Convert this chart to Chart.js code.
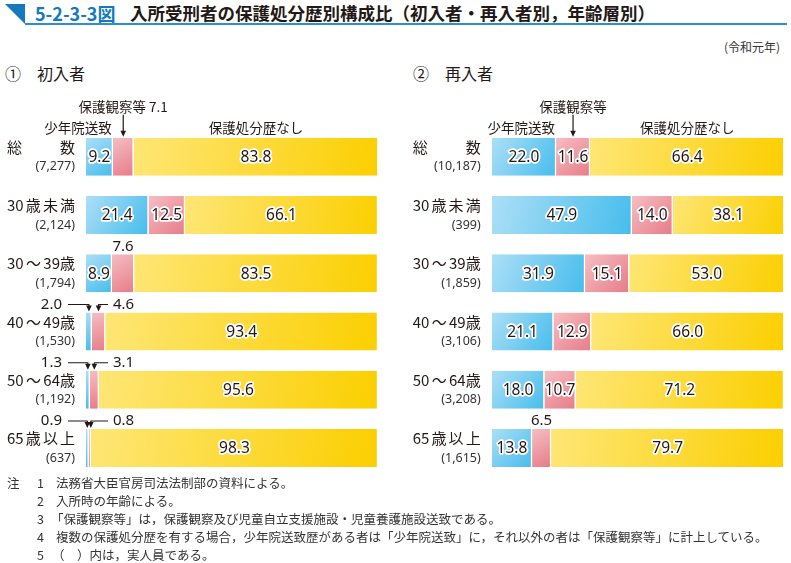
<!DOCTYPE html>
<html><head><meta charset="utf-8">
<script src="https://cdn.jsdelivr.net/npm/chart.js@4"></script>
<style>
html,body{margin:0;padding:0;background:#fff}
body{width:791px;height:563px;position:relative;overflow:hidden;font-family:"Noto Sans CJK JP","Noto Sans",sans-serif;color:#231815}
.abs{position:absolute;white-space:nowrap;line-height:1}
canvas{position:absolute;top:0}
#c1{left:0}
#c2{left:395px}
.note{font-size:12.5px;color:#333}
</style></head><body>
<svg class="abs" style="left:0;top:0" width="791" height="30">
  <polygon points="5,4 25,4 25,24" fill="#1479bd"/>
  <rect x="25" y="23" width="762" height="2" fill="#2a90d2"/>
</svg>
<div class="abs" style="left:35px;top:4px;font-size:18px;font-weight:bold;color:#1479bd">5-2-3-3図</div>
<div class="abs" style="left:130px;top:4px;font-size:17.5px;font-weight:bold;color:#231815">入所受刑者の保護処分歴別構成比（初入者・再入者別，年齢層別）</div>
<div class="abs" style="left:724px;top:41px;font-size:12px;color:#333">(令和元年)</div>
<div class="abs" style="left:5px;top:65px;font-size:16px">①</div>
<div class="abs" style="left:37px;top:65px;font-size:16px">初入者</div>
<div class="abs" style="left:413px;top:65px;font-size:16px">②</div>
<div class="abs" style="left:445px;top:65px;font-size:16px">再入者</div>
<canvas id="c1" width="395" height="563"></canvas>
<canvas id="c2" width="396" height="563"></canvas>
<div class="abs note" style="left:7px;top:477px">注</div>
<div class="abs note" style="left:37px;top:477px">1</div>
<div class="abs note" style="left:56px;top:477px">法務省大臣官房司法法制部の資料による。</div>
<div class="abs note" style="left:37px;top:495px">2</div>
<div class="abs note" style="left:56px;top:495px">入所時の年齢による。</div>
<div class="abs note" style="left:37px;top:513px">3</div>
<div class="abs note" style="left:51px;top:513px">「保護観察等」は，保護観察及び児童自立支援施設・児童養護施設送致である。</div>
<div class="abs note" style="left:37px;top:531px">4</div>
<div class="abs note" style="left:56px;top:531px">複数の保護処分歴を有する場合，少年院送致歴がある者は「少年院送致」に，それ以外の者は「保護観察等」に計上している。</div>
<div class="abs note" style="left:37px;top:549px">5</div>
<div class="abs note" style="left:52px;top:549px">（　）内は，実人員である。</div>
<script>
const categories = ['総 数', '30 歳 未 満', '30 ～ 39歳', '40 ～ 49歳', '50 ～ 64歳', '65 歳 以 上'];
const seriesNames = ['少年院送致', '保護観察等', '保護処分歴なし'];

const firstCounts = ['7,277', '2,124', '1,794', '1,530', '1,192', '637'];
const firstReformatory = [9.2, 21.4, 8.9, 2.0, 1.3, 0.9];
const firstProbation = [7.1, 12.5, 7.6, 4.6, 3.1, 0.8];
const firstNone = [83.8, 66.1, 83.5, 93.4, 95.6, 98.3];

const repeatCounts = ['10,187', '399', '1,859', '3,106', '3,208', '1,615'];
const repeatReformatory = [22.0, 47.9, 31.9, 21.1, 18.0, 13.8];
const repeatProbation = [11.6, 14.0, 15.1, 12.9, 10.7, 6.5];
const repeatNone = [66.4, 38.1, 53.0, 66.0, 71.2, 79.7];

const BAR_FRAC = 0.652;
const TEXT = '#231815';
const colorPairs = [['#addff6', '#46bdec'], ['#f6bec2', '#e77c89'], ['#fee676', '#fbcf00']];

function gradientFill(c1, c2) {
  return (ctx) => {
    const chart = ctx.chart;
    const xs = chart.scales.x, ys = chart.scales.y;
    if (ctx.type !== 'data' || !xs || !ys || !chart.chartArea) return c2;
    const i = ctx.dataIndex, d = ctx.datasetIndex;
    const ds = chart.data.datasets;
    let s = 0;
    for (let k = 0; k < d; k++) s += ds[k].data[i];
    const x0 = xs.getPixelForValue(s), x1 = xs.getPixelForValue(s + ds[d].data[i]);
    const yc = ys.getPixelForValue(i);
    const h = (ys.height / chart.data.labels.length) * BAR_FRAC / 2;
    const g = chart.ctx.createLinearGradient(x0, yc - h, Math.max(x1, x0 + 1), yc + h);
    g.addColorStop(0, c1);
    g.addColorStop(1, c2);
    return g;
  };
}

function arrowHead(ctx, x, yTip) {
  ctx.beginPath();
  ctx.moveTo(x - 2.8, yTip - 6);
  ctx.lineTo(x + 2.8, yTip - 6);
  ctx.lineTo(x, yTip);
  ctx.closePath();
  ctx.fill();
}

const labelPlugin = {
  id: 'labels',
  afterDatasetsDraw(chart) {
    const ctx = chart.ctx;
    const ca = chart.chartArea;
    const counts = chart.options.plugins.labels.counts;
    const metas = [0, 1, 2].map(d => chart.getDatasetMeta(d));
    ctx.save();
    for (let i = 0; i < categories.length; i++) {
      const bars = metas.map(m => m.data[i].getProps(['x', 'base', 'y', 'height'], true));
      const yc = bars[0].y;
      const top = yc - bars[0].height / 2;
      // category label (justified)
      ctx.fillStyle = TEXT;
      ctx.textBaseline = 'middle';
      ctx.font = '15px "Noto Sans CJK JP"';
      const toks = categories[i].split(' ');
      const L = ca.left - 79, R = ca.left - 11;
      const widths = toks.map(t => ctx.measureText(t).width);
      const total = widths.reduce((a, b) => a + b, 0);
      const gap = toks.length > 1 ? (R - L - total) / (toks.length - 1) : 0;
      let cx = toks.length > 1 ? L : R - total;
      ctx.textAlign = 'left';
      toks.forEach((t, k) => { ctx.fillText(t, cx, yc - 9.5); cx += widths[k] + gap; });
      ctx.fillStyle = '#333';
      ctx.font = '12.5px "Noto Sans"';
      ctx.textAlign = 'right';
      ctx.fillText('(' + counts[i] + ')', ca.left - 11, yc + 10);

      // values
      const vals = chart.data.datasets.map(ds => ds.data[i]);
      const fits = bars.map(b => Math.abs(b.x - b.base) >= 24);
      const centers = bars.map(b => (b.x + b.base) / 2);
      ctx.font = '15.5px "Noto Sans"';
      ctx.textAlign = 'center';
      ctx.lineJoin = 'round';
      for (let d = 0; d < 3; d++) {
        const lbl = vals[d].toFixed(1);
        if (fits[d]) {
          ctx.strokeStyle = '#fff';
          ctx.lineWidth = 3.5;
          ctx.strokeText(lbl, centers[d], yc + 1);
          ctx.fillStyle = TEXT;
          ctx.fillText(lbl, centers[d], yc + 1);
        }
      }
      ctx.fillStyle = TEXT;
      ctx.strokeStyle = TEXT;
      ctx.lineWidth = 1.2;
      ctx.font = '15px "Noto Sans"';
      if (i === 0) {
        // header with series names
        ctx.font = '13.5px "Noto Sans CJK JP"';
        ctx.textAlign = 'right';
        ctx.fillText(seriesNames[0], bars[0].x - 1, top - 10);
        ctx.textAlign = 'center';
        ctx.fillText(seriesNames[2], centers[2], top - 10);
        const head = seriesNames[1] + (fits[1] ? '' : ' ' + vals[1].toFixed(1));
        ctx.fillText(head, centers[1], top - 31);
        ctx.beginPath();
        ctx.moveTo(centers[1], top - 23);
        ctx.lineTo(centers[1], top - 6);
        ctx.stroke();
        arrowHead(ctx, centers[1], top - 1);
      } else if (!fits[0] && !fits[1]) {
        const ty = top - 8;
        ctx.textAlign = 'right';
        ctx.fillText(vals[0].toFixed(1), ca.left - 24, ty);
        ctx.textAlign = 'left';
        ctx.fillText(vals[1].toFixed(1), ca.left + 27, ty);
        const ax0 = centers[0], ax1 = Math.max(centers[1], centers[0] + 3.5);
        ctx.beginPath();
        ctx.moveTo(ca.left - 18, ty); ctx.lineTo(ax0, ty); ctx.lineTo(ax0, top - 6);
        ctx.moveTo(ca.left + 22, ty); ctx.lineTo(ax1, ty); ctx.lineTo(ax1, top - 6);
        ctx.stroke();
        arrowHead(ctx, ax0, top - 1);
        arrowHead(ctx, ax1, top - 1);
      } else {
        ctx.textAlign = 'center';
        for (let d = 0; d < 2; d++) {
          if (!fits[d]) ctx.fillText(vals[d].toFixed(1), centers[d], top - 8);
        }
      }
    }
    ctx.restore();
  }
};

function makeChart(id, counts, a, b, c, padLeft, padRight) {
  const arrays = [a, b, c];
  return new Chart(document.getElementById(id), {
    type: 'bar',
    data: {
      labels: categories,
      datasets: arrays.map((arr, d) => ({
        label: seriesNames[d],
        data: arr,
        backgroundColor: gradientFill(colorPairs[d][0], colorPairs[d][1]),
        borderColor: '#ffffff',
        borderWidth: { left: 0, right: 1.2, top: 0, bottom: 0 },
        borderSkipped: false,
        barPercentage: BAR_FRAC,
        categoryPercentage: 1
      }))
    },
    options: {
      indexAxis: 'y',
      responsive: false,
      animation: false,
      devicePixelRatio: 1,
      events: [],
      layout: { padding: { left: padLeft, right: padRight, top: 127.6, bottom: 85.9 } },
      scales: {
        x: { display: false, stacked: true, min: 0, max: 100 },
        y: { display: false, stacked: true }
      },
      plugins: {
        legend: { display: false },
        tooltip: { enabled: false },
        labels: { counts: counts }
      }
    },
    plugins: [labelPlugin]
  });
}

makeChart('c1', firstCounts, firstReformatory, firstProbation, firstNone, 86, 17);
makeChart('c2', repeatCounts, repeatReformatory, repeatProbation, repeatNone, 96.7, 6.7);
</script>
</body></html>
